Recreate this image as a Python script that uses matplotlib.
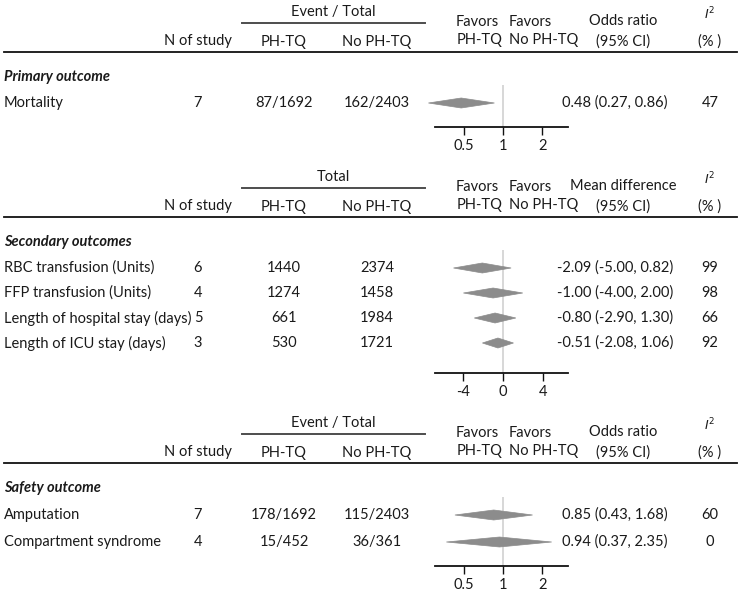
import matplotlib
matplotlib.use("Agg")
import matplotlib.pyplot as plt
from matplotlib.patches import Polygon

plt.rcParams['font.family'] = ['Lato', 'DejaVu Sans']
plt.rcParams['axes.unicode_minus'] = False

# ---- data ----
primary_labels = ['Mortality']
primary_n = [7]
primary_ph = ['87/1692']
primary_noph = ['162/2403']
primary_est = [0.48]
primary_lo = [0.27]
primary_hi = [0.86]
primary_i2 = [47]

secondary_labels = ['RBC transfusion (Units)', 'FFP transfusion (Units)',
                    'Length of hospital stay (days)', 'Length of ICU stay (days)']
secondary_n = [6, 4, 5, 3]
secondary_ph = ['1440', '1274', '661', '530']
secondary_noph = ['2374', '1458', '1984', '1721']
secondary_est = [-2.09, -1.00, -0.80, -0.51]
secondary_lo = [-5.00, -4.00, -2.90, -2.08]
secondary_hi = [0.82, 2.00, 1.30, 1.06]
secondary_i2 = [99, 98, 66, 92]

safety_labels = ['Amputation', 'Compartment syndrome']
safety_n = [7, 4]
safety_ph = ['178/1692', '15/452']
safety_noph = ['115/2403', '36/361']
safety_est = [0.85, 0.94]
safety_lo = [0.43, 0.37]
safety_hi = [1.68, 2.35]
safety_i2 = [60, 0]

or_ticks = [0.5, 1, 2]
md_ticks = [-4, 0, 4]

W, H = 744, 596
FS = 10.5
TXT = '#1a1a1a'

fig = plt.figure(figsize=(W / 100, H / 100), dpi=100)
bg = fig.add_axes([0, 0, 1, 1])
bg.set_xlim(0, W)
bg.set_ylim(H, 0)
bg.axis('off')


def txt(x, y, s, ha='center', **kw):
    kw.setdefault('fontsize', FS)
    bg.text(x, y, s, ha=ha, va='center', color=TXT, **kw)


def draw_section(off, group_title, effect_title, title, labels, n, ph, noph,
                 est, lo, hi, i2, row_y, axis_gap, log_scale, ticks, xlim):
    # header
    txt(333, 12 + off, group_title)
    bg.plot([242, 425], [23 + off, 23 + off], color='#4d4d4d', lw=1.4)
    txt(198, 41 + off, 'N of study')
    txt(284, 42 + off, 'PH-TQ')
    txt(377, 42 + off, 'No PH-TQ')
    txt(456, 22 + off, 'Favors', ha='left')
    txt(457, 40 + off, 'PH-TQ', ha='left')
    txt(509, 22 + off, 'Favors', ha='left')
    txt(509, 40 + off, 'No PH-TQ', ha='left')
    txt(623, 21 + off, effect_title)
    txt(623, 42 + off, '(95% CI)')
    txt(710, 14 + off, r'$\mathit{I}^{2}$', fontsize=9)
    txt(710, 42 + off, '(% )')
    bg.plot([4, 737], [52 + off, 52 + off], color='#111111', lw=1.3)
    txt(4, 77 + off, title, ha='left', fontweight='bold', fontstyle='italic')

    for i in range(len(labels)):
        y = row_y[i] + off
        txt(4, y, labels[i], ha='left')
        txt(198, y, str(n[i]))
        txt(284, y, ph[i])
        txt(377, y, noph[i])
        txt(615, y, f"{est[i]:.2f} ({lo[i]:.2f}, {hi[i]:.2f})")
        txt(710, y, str(i2[i]))

    # forest panel
    top = row_y[0] - 18 + off
    axis_y = row_y[-1] + axis_gap + off
    ax = fig.add_axes([435 / W, 1 - axis_y / H, 133 / W, (axis_y - top) / H])
    ax.patch.set_alpha(0)
    if log_scale:
        ax.set_xscale('log')
        ref = 1
    else:
        ref = 0
    ax.set_xlim(*xlim)
    ax.set_ylim(axis_y, top)
    ax.axvline(ref, color='#d4d4d4', lw=1.3, zorder=0)
    for i in range(len(labels)):
        y = row_y[i] + off
        d = Polygon([(lo[i], y), (est[i], y - 5), (hi[i], y), (est[i], y + 5)],
                    closed=True, facecolor='#8c8c8c', edgecolor='#8c8c8c',
                    lw=0.5, clip_on=False, zorder=2)
        ax.add_patch(d)
    for s in ['top', 'left', 'right']:
        ax.spines[s].set_visible(False)
    ax.spines['bottom'].set_linewidth(1.3)
    ax.spines['bottom'].set_color('#111111')
    ax.set_yticks([])
    ax.set_xticks(ticks)
    ax.set_xticklabels([str(t) for t in ticks])
    ax.minorticks_off()
    ax.tick_params(axis='x', direction='out', length=5.5, width=1.0,
                   pad=3, labelsize=FS, labelcolor=TXT, color='#111111')


draw_section(0, 'Event / Total', 'Odds ratio', 'Primary outcome',
             primary_labels, primary_n, primary_ph, primary_noph,
             primary_est, primary_lo, primary_hi, primary_i2,
             [103], 24, True, or_ticks, (0.303, 3.13))

draw_section(165, 'Total', 'Mean difference', 'Secondary outcomes',
             secondary_labels, secondary_n, secondary_ph, secondary_noph,
             secondary_est, secondary_lo, secondary_hi, secondary_i2,
             [103, 128, 153, 178], 30, False, md_ticks, (-6.87, 6.57))

draw_section(411, 'Event / Total', 'Odds ratio', 'Safety outcome',
             safety_labels, safety_n, safety_ph, safety_noph,
             safety_est, safety_lo, safety_hi, safety_i2,
             [104, 131], 24, True, or_ticks, (0.303, 3.13))

fig.savefig('out.png', dpi=100)
